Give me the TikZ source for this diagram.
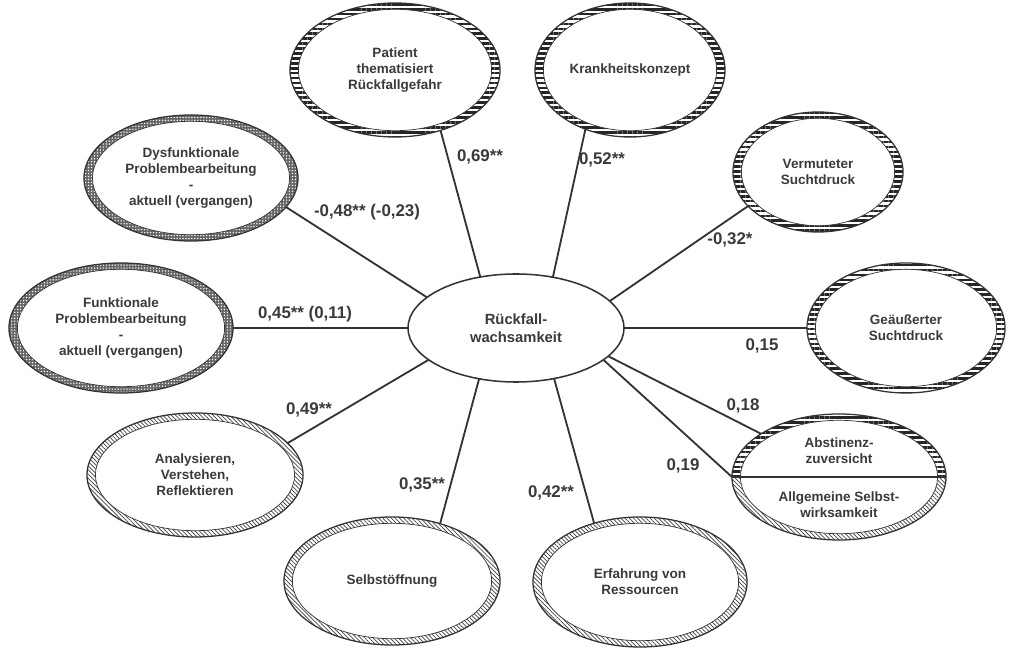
\documentclass[tikz,border=0pt]{standalone}
\usepackage{fontspec}
\setmainfont{Liberation Sans}
\usetikzlibrary{shapes.geometric,patterns.meta,calc}

\definecolor{linie}{HTML}{333333}
\definecolor{schrift}{HTML}{3A3A3A}
\newcommand\knotenfont{\fontsize{9.6}{11.3}\selectfont\bfseries}
\newcommand\mittefont{\fontsize{10.5}{13}\selectfont\bfseries}
\newcommand\wertfont{\fontsize{12}{14}\selectfont\bfseries}
\newcommand\ringx{6pt}
\newcommand\ringy{4.5pt}
% weisses Innenoval, das vom Muster nur den Ring stehen laesst
\newcommand\innenoval{\path[fill=white,draw=linie,line width=0.5pt]
  let \p1=(path picture bounding box.north east), \p2=(path picture bounding box.center)
  in (\p2) ellipse [x radius=\x1-\x2-\ringx, y radius=\y1-\y2-\ringy];}

\tikzset{
  konstrukt/.style={ellipse, draw=linie, line width=0.9pt, inner sep=0pt, outer sep=0pt,
    align=center, font=\knotenfont, text=schrift, path picture={\innenoval}},
  streifen/.style={konstrukt, pattern={Lines[angle=0,distance=3.5pt,line width=1.9pt]},
    pattern color=black!85},
  schraeg/.style={konstrukt, pattern={Lines[angle=-45,distance=2.1pt,line width=0.5pt]},
    pattern color=black!75},
  gitter/.style={konstrukt, preaction={fill=black!60},
    pattern={Dots[radius=0.55pt,distance=2.1pt]}, pattern color=white},
  geteilt/.style={konstrukt, path picture={
    \fill[pattern={Lines[angle=0,distance=3.5pt,line width=1.9pt]}, pattern color=black!85]
      (path picture bounding box.north west) rectangle (path picture bounding box.east);
    \fill[pattern={Lines[angle=-45,distance=2.1pt,line width=0.5pt]}, pattern color=black!75]
      (path picture bounding box.west) rectangle (path picture bounding box.south east);
    \innenoval}},
  zentrum/.style={ellipse, draw=linie, line width=1.1pt, fill=white, inner sep=0pt,
    outer sep=0pt, align=center, font=\mittefont, text=schrift},
  kante/.style={draw=linie, line width=1.3pt},
  wert/.style={font=\wertfont, text=schrift},
  teiltext/.style={align=center, font=\knotenfont, text=schrift}
}

\begin{document}
\begin{tikzpicture}[x=0.025cm,y=-0.025cm]
\useasboundingbox (0,0) rectangle (1015,649);

% Konstrukte
\node[zentrum, minimum width=5.4cm, minimum height=2.7cm] (rw) at (516,328) {Rückfall-\\wachsamkeit};
\node[gitter, minimum width=5.35cm, minimum height=3.15cm] (dys) at (191,178) {Dysfunktionale\\Problembearbeitung\\-\\aktuell (vergangen)};
\node[gitter, minimum width=5.6cm, minimum height=3.25cm] (fp) at (121,328) {Funktionale\\Problembearbeitung\\-\\aktuell (vergangen)};
\node[streifen, minimum width=5.25cm, minimum height=3.35cm] (pat) at (395,70) {Patient\\thematisiert\\Rückfallgefahr};
\node[streifen, minimum width=4.75cm, minimum height=3.35cm] (kk) at (630,70) {Krankheitskonzept};
\node[streifen, minimum width=4.25cm, minimum height=3cm] (vs) at (818,172) {Vermuteter\\Suchtdruck};
\node[streifen, minimum width=4.95cm, minimum height=3.25cm] (gs) at (906,328) {Geäußerter\\Suchtdruck};
\node[geteilt, minimum width=5.35cm, minimum height=3.15cm] (abst) at (839,477) {};
\node[teiltext] (abst-o) at (839,451) {Abstinenz-\\zuversicht};
\node[teiltext] (abst-u) at (839,505) {Allgemeine Selbst-\\wirksamkeit};
\node[schraeg, minimum width=5.35cm, minimum height=3.25cm] (er) at (640,582) {Erfahrung von\\Ressourcen};
\node[schraeg, minimum width=5.4cm, minimum height=3.2cm] (so) at (392,581) {Selbstöffnung};
\node[schraeg, minimum width=5.4cm, minimum height=3.1cm] (an) at (195,475) {Analysieren,\\Verstehen,\\Reflektieren};
\draw[draw=linie, line width=0.9pt] (abst.west) -- (abst.east);

% Verbindungen
\draw[kante] (rw.161) -- (dys.-17);
\draw[kante] (rw.west) -- (fp.east);
\draw[kante] (rw.125) -- (pat.-53);
\draw[kante] (rw.54) -- (kk.-127);
\draw[kante] (rw.16) -- (vs.-154);
\draw[kante] (rw.east) -- (gs.west);
\draw[kante] (rw.-17) -- (abst.151);
\draw[kante] (rw.-20) -- (abst.west);
\draw[kante] (rw.-53.5) -- (er.128.5);
\draw[kante] (rw.-126) -- (so.50);
\draw[kante] (rw.-160) -- (an.19);

% Koeffizienten
\node[wert] (w-dys) at (367,212) {-0,48** (-0,23)};
\node[wert] (w-fp) at (305,314) {0,45** (0,11)};
\node[wert] (w-pat) at (480,157) {0,69**};
\node[wert] (w-kk) at (602,160) {0,52**};
\node[wert] (w-vs) at (730,240) {-0,32*};
\node[wert] (w-gs) at (762,346) {0,15};
\node[wert] (w-a1) at (743,406) {0,18};
\node[wert] (w-a2) at (683,466) {0,19};
\node[wert] (w-er) at (551,493) {0,42**};
\node[wert] (w-so) at (422,485) {0,35**};
\node[wert] (w-an) at (309,410) {0,49**};
\end{tikzpicture}
\end{document}
